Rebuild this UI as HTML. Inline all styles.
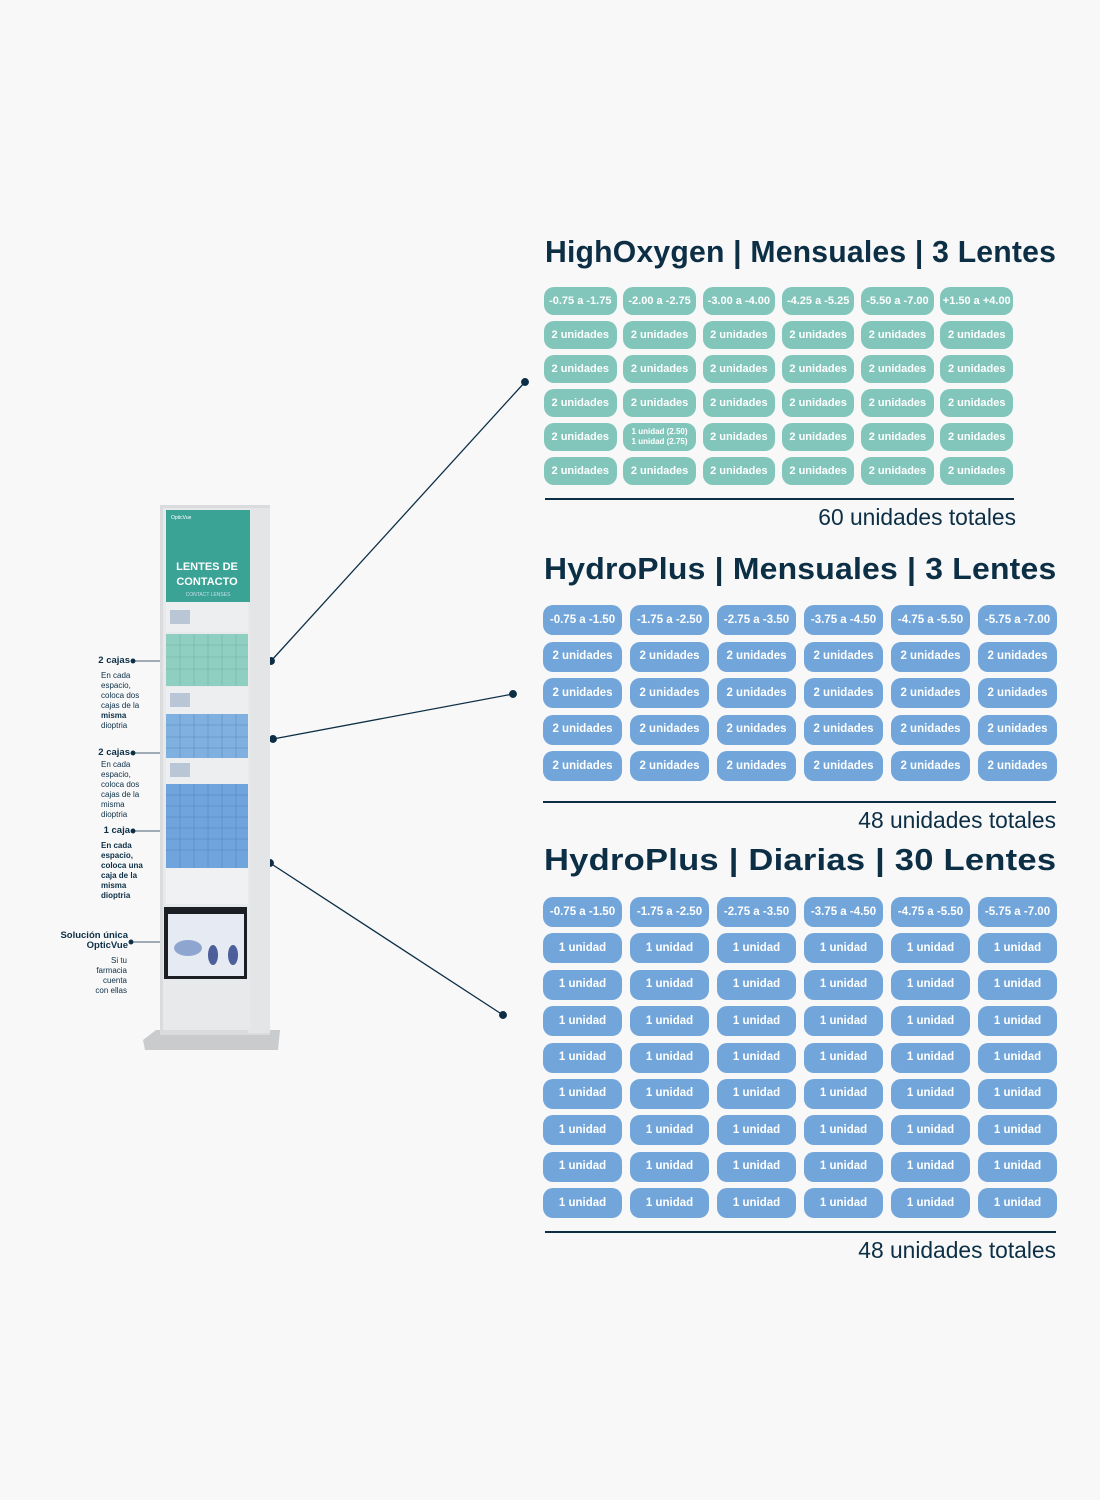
<!DOCTYPE html>
<html><head><meta charset="utf-8"><style>
*{margin:0;padding:0;box-sizing:border-box}
body{width:1100px;height:1500px;background:#f8f8f8;position:relative;font-family:"Liberation Sans",sans-serif;overflow:hidden}
.t{position:absolute;color:#0c2f46;font-weight:bold;font-size:31px;white-space:nowrap;letter-spacing:0.2px;transform-origin:0 0}
.g{position:absolute;display:grid;grid-template-columns:repeat(6,79px);column-gap:8px}
.g div{height:30px;border-radius:10px;color:#fff;font-weight:bold;font-size:11.5px;display:flex;align-items:center;justify-content:center;text-align:center;line-height:11px}
.g1{grid-template-columns:repeat(6,72.5px);column-gap:6.8px;row-gap:6px;left:544px;top:287px}
.g1 div{background:#82c6bb;height:28px;font-size:11px}
.g2{left:543px;top:605px;row-gap:6.5px}
.g2 div{background:#72a6da}
.g3{left:543px;top:897px;row-gap:6.4px}
.g3 div{background:#72a6da}
.h{position:absolute;height:1.5px;background:#0c2f46}
.tot{position:absolute;font-size:22.8px;color:#0c2f46;white-space:nowrap}
.an{position:absolute;color:#0c2f46;font-size:8px;text-align:right;line-height:10px}
.an b{font-size:9.5px}
</style></head><body>

<div class="t" style="left:545px;top:234px;transform:scaleX(0.973)">HighOxygen | Mensuales | 3 Lentes</div>
<div class="g g1">
<div>-0.75 a -1.75</div><div>-2.00 a -2.75</div><div>-3.00 a -4.00</div><div>-4.25 a -5.25</div><div>-5.50 a -7.00</div><div>+1.50 a +4.00</div>
<div>2 unidades</div><div>2 unidades</div><div>2 unidades</div><div>2 unidades</div><div>2 unidades</div><div>2 unidades</div>
<div>2 unidades</div><div>2 unidades</div><div>2 unidades</div><div>2 unidades</div><div>2 unidades</div><div>2 unidades</div>
<div>2 unidades</div><div>2 unidades</div><div>2 unidades</div><div>2 unidades</div><div>2 unidades</div><div>2 unidades</div>
<div>2 unidades</div><div style="font-size:8px;line-height:10px">1 unidad (2.50)<br>1 unidad (2.75)</div><div>2 unidades</div><div>2 unidades</div><div>2 unidades</div><div>2 unidades</div>
<div>2 unidades</div><div>2 unidades</div><div>2 unidades</div><div>2 unidades</div><div>2 unidades</div><div>2 unidades</div>
</div>
<div class="h" style="left:545px;top:498px;width:469px"></div>
<div class="tot" style="right:84px;top:504px">60 unidades totales</div>

<div class="t" style="left:544px;top:551px;transform:scaleX(1.03)">HydroPlus | Mensuales | 3 Lentes</div>
<div class="g g2">
<div>-0.75 a -1.50</div><div>-1.75 a -2.50</div><div>-2.75 a -3.50</div><div>-3.75 a -4.50</div><div>-4.75 a -5.50</div><div>-5.75 a -7.00</div>
<div>2 unidades</div><div>2 unidades</div><div>2 unidades</div><div>2 unidades</div><div>2 unidades</div><div>2 unidades</div>
<div>2 unidades</div><div>2 unidades</div><div>2 unidades</div><div>2 unidades</div><div>2 unidades</div><div>2 unidades</div>
<div>2 unidades</div><div>2 unidades</div><div>2 unidades</div><div>2 unidades</div><div>2 unidades</div><div>2 unidades</div>
<div>2 unidades</div><div>2 unidades</div><div>2 unidades</div><div>2 unidades</div><div>2 unidades</div><div>2 unidades</div>
</div>
<div class="h" style="left:543px;top:801px;width:513px"></div>
<div class="tot" style="right:44px;top:807px">48 unidades totales</div>

<div class="t" style="left:544px;top:842px;transform:scaleX(1.115)">HydroPlus | Diarias | 30 Lentes</div>
<div class="g g3">
<div>-0.75 a -1.50</div><div>-1.75 a -2.50</div><div>-2.75 a -3.50</div><div>-3.75 a -4.50</div><div>-4.75 a -5.50</div><div>-5.75 a -7.00</div>
<div>1 unidad</div><div>1 unidad</div><div>1 unidad</div><div>1 unidad</div><div>1 unidad</div><div>1 unidad</div>
<div>1 unidad</div><div>1 unidad</div><div>1 unidad</div><div>1 unidad</div><div>1 unidad</div><div>1 unidad</div>
<div>1 unidad</div><div>1 unidad</div><div>1 unidad</div><div>1 unidad</div><div>1 unidad</div><div>1 unidad</div>
<div>1 unidad</div><div>1 unidad</div><div>1 unidad</div><div>1 unidad</div><div>1 unidad</div><div>1 unidad</div>
<div>1 unidad</div><div>1 unidad</div><div>1 unidad</div><div>1 unidad</div><div>1 unidad</div><div>1 unidad</div>
<div>1 unidad</div><div>1 unidad</div><div>1 unidad</div><div>1 unidad</div><div>1 unidad</div><div>1 unidad</div>
<div>1 unidad</div><div>1 unidad</div><div>1 unidad</div><div>1 unidad</div><div>1 unidad</div><div>1 unidad</div>
<div>1 unidad</div><div>1 unidad</div><div>1 unidad</div><div>1 unidad</div><div>1 unidad</div><div>1 unidad</div>
</div>
<div class="h" style="left:545px;top:1231px;width:511px"></div>
<div class="tot" style="right:44px;top:1237px">48 unidades totales</div>

<svg style="position:absolute;left:0;top:0" width="1100" height="1500">
<g stroke="#0c2f46" stroke-width="1.3" fill="#0c2f46">
<line x1="271" y1="661" x2="525" y2="382"/><circle cx="271" cy="661" r="3.3"/><circle cx="525" cy="382" r="3.3"/>
<line x1="273" y1="739" x2="513" y2="694"/><circle cx="273" cy="739" r="3.3"/><circle cx="513" cy="694" r="3.3"/>
<line x1="270" y1="863" x2="503" y2="1015"/><circle cx="270" cy="863" r="3.3"/><circle cx="503" cy="1015" r="3.3"/>
<line x1="133" y1="661" x2="163" y2="661" stroke-width="0.8"/><circle cx="133" cy="661" r="1.8"/>
<line x1="133" y1="753" x2="163" y2="753" stroke-width="0.8"/><circle cx="133" cy="753" r="1.8"/>
<line x1="133" y1="831" x2="163" y2="831" stroke-width="0.8"/><circle cx="133" cy="831" r="1.8"/>
<line x1="131" y1="942" x2="163" y2="942" stroke-width="0.8"/><circle cx="131" cy="942" r="1.8"/>
</g>
<polygon points="143,1040 156,1030 280,1030 278,1050 145,1050" fill="#c9cbcd"/>
<rect x="160" y="505" width="110" height="530" fill="#d9dbdd"/>
<rect x="248" y="508" width="22" height="525" fill="#e4e5e7"/>
<rect x="163" y="508" width="87" height="522" fill="#e8e9ea"/>
<rect x="166" y="510" width="84" height="92" fill="#3aa396"/>
<rect x="166" y="602" width="82" height="30" fill="#eceef0"/>
<rect x="170" y="610" width="20" height="14" fill="#b9c6d6"/>
<rect x="166" y="634" width="82" height="52" fill="#8fcfc2"/>
<rect x="166" y="687" width="82" height="27" fill="#eceef0"/>
<rect x="170" y="693" width="20" height="14" fill="#b9c6d6"/>
<rect x="166" y="714" width="82" height="44" fill="#7fb0e0"/>
<rect x="166" y="758" width="82" height="26" fill="#eceef0"/>
<rect x="170" y="763" width="20" height="14" fill="#b9c6d6"/>
<rect x="166" y="784" width="82" height="84" fill="#6fa5dc"/>
<rect x="166" y="868" width="82" height="36" fill="#f0f1f3"/>
<rect x="164" y="907" width="83" height="72" fill="#1b1f24"/>
<rect x="168" y="914" width="76" height="62" fill="#e6ebf3"/>
<ellipse cx="188" cy="948" rx="14" ry="8" fill="#8ea6cf"/>
<ellipse cx="213" cy="955" rx="5" ry="10" fill="#4d5f9a"/>
<ellipse cx="233" cy="955" rx="5" ry="10" fill="#4d5f9a"/>
<g stroke="#5e8f8a" stroke-width="0.5" opacity="0.6">
<line x1="166" y1="645" x2="248" y2="645"/><line x1="166" y1="657" x2="248" y2="657"/><line x1="166" y1="669" x2="248" y2="669"/>
<line x1="180" y1="634" x2="180" y2="686"/><line x1="194" y1="634" x2="194" y2="686"/><line x1="208" y1="634" x2="208" y2="686"/><line x1="222" y1="634" x2="222" y2="686"/><line x1="236" y1="634" x2="236" y2="686"/>
</g>
<g stroke="#3d6d9c" stroke-width="0.5" opacity="0.6">
<line x1="166" y1="725" x2="248" y2="725"/><line x1="166" y1="737" x2="248" y2="737"/><line x1="166" y1="748" x2="248" y2="748"/>
<line x1="166" y1="795" x2="248" y2="795"/><line x1="166" y1="806" x2="248" y2="806"/><line x1="166" y1="817" x2="248" y2="817"/><line x1="166" y1="828" x2="248" y2="828"/><line x1="166" y1="839" x2="248" y2="839"/><line x1="166" y1="850" x2="248" y2="850"/>
<line x1="180" y1="714" x2="180" y2="758"/><line x1="194" y1="714" x2="194" y2="758"/><line x1="208" y1="714" x2="208" y2="758"/><line x1="222" y1="714" x2="222" y2="758"/><line x1="236" y1="714" x2="236" y2="758"/>
<line x1="180" y1="784" x2="180" y2="868"/><line x1="194" y1="784" x2="194" y2="868"/><line x1="208" y1="784" x2="208" y2="868"/><line x1="222" y1="784" x2="222" y2="868"/><line x1="236" y1="784" x2="236" y2="868"/>
</g>
<text x="207" y="570" fill="#fff" font-family="Liberation Sans" font-weight="bold" font-size="11" text-anchor="middle">LENTES DE</text>
<text x="207" y="585" fill="#fff" font-family="Liberation Sans" font-weight="bold" font-size="11" text-anchor="middle">CONTACTO</text>
<text x="208" y="596" fill="#cde" font-family="Liberation Sans" font-size="5" text-anchor="middle">CONTACT LENSES</text>
<text x="171" y="519" fill="#fff" font-family="Liberation Sans" font-size="5">OpticVue</text>
</svg>

<div class="an" style="left:80px;top:656px;width:50px"><b>2 cajas</b></div>
<div class="an" style="left:101px;top:671px;text-align:left">En cada<br>espacio,<br>coloca dos<br>cajas de la<br><b style="font-size:8px">misma</b><br>dioptria</div>
<div class="an" style="left:80px;top:748px;width:50px"><b>2 cajas</b></div>
<div class="an" style="left:101px;top:760px;text-align:left">En cada<br>espacio,<br>coloca dos<br>cajas de la<br>misma<br>dioptria</div>
<div class="an" style="left:80px;top:826px;width:50px"><b>1 caja</b></div>
<div class="an" style="left:101px;top:841px;text-align:left;font-weight:bold">En cada<br>espacio,<br>coloca una<br>caja de la<br>misma<br>dioptria</div>
<div class="an" style="left:40px;top:931px;width:88px"><b>Solución única<br>OpticVue</b></div>
<div class="an" style="left:60px;top:956px;width:67px">Si tu<br>farmacia<br>cuenta<br>con ellas</div>
</body></html>
